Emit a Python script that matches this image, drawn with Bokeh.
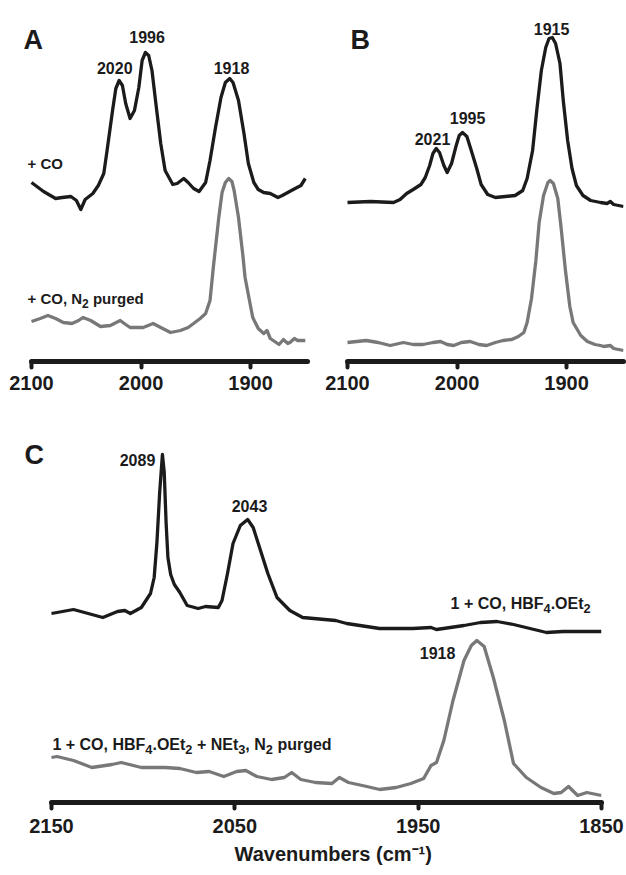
from bokeh.plotting import figure
from bokeh.models import Range1d, Label, FixedTicker, Title
from bokeh.layouts import column, row
from bokeh.embed import file_html
from bokeh.resources import INLINE

# ---------------- data ----------------
# Panel A: + CO (black) and + CO, N2 purged (gray)
A_black_wn = [2100, 2089, 2078, 2072, 2064, 2059, 2055, 2051, 2044, 2039,
              2034, 2031, 2026, 2023, 2020, 2017, 2014, 2010, 2006, 2002,
              1999, 1996, 1993, 1990, 1986, 1982, 1978, 1971, 1967, 1961,
              1957, 1952, 1947, 1941, 1937, 1932, 1927, 1923, 1919, 1916,
              1911, 1906, 1902, 1897, 1893, 1888, 1882, 1875, 1871, 1866,
              1861, 1854, 1850]
A_black_abs = [1.79, 1.70, 1.63, 1.64, 1.65, 1.61, 1.52, 1.62, 1.68, 1.76,
               1.88, 2.11, 2.51, 2.73, 2.81, 2.76, 2.58, 2.43, 2.51, 2.74,
               3.01, 3.09, 3.06, 2.91, 2.54, 2.18, 1.91, 1.77, 1.78, 1.83,
               1.79, 1.73, 1.70, 1.79, 2.01, 2.34, 2.64, 2.79, 2.83, 2.79,
               2.61, 2.28, 1.98, 1.79, 1.72, 1.69, 1.68, 1.64, 1.66, 1.69,
               1.72, 1.76, 1.83]
A_gray_wn = [2100, 2092, 2085, 2078, 2071, 2063, 2057, 2053, 2046, 2037,
             2028, 2019, 2014, 2010, 1998, 1989, 1982, 1973, 1964, 1957,
             1952, 1946, 1941, 1937, 1934, 1929, 1926, 1923, 1920, 1917,
             1915, 1911, 1907, 1905, 1901, 1898, 1893, 1888, 1885, 1882,
             1874, 1870, 1866, 1864, 1860, 1857, 1850]
A_gray_abs = [0.40, 0.43, 0.46, 0.43, 0.39, 0.38, 0.41, 0.44, 0.41, 0.35,
              0.36, 0.41, 0.37, 0.34, 0.34, 0.38, 0.34, 0.29, 0.31, 0.34,
              0.38, 0.43, 0.48, 0.61, 0.94, 1.44, 1.69, 1.79, 1.83, 1.80,
              1.71, 1.44, 1.06, 0.84, 0.61, 0.44, 0.33, 0.28, 0.31, 0.23,
              0.17, 0.22, 0.18, 0.19, 0.23, 0.21, 0.21]
A_peaks = [2020, 1996, 1918]

# Panel B
B_black_wn = [2100, 2079, 2058, 2052, 2046, 2040, 2033, 2029, 2025, 2022,
              2019, 2016, 2012, 2009, 2005, 2001, 1998, 1995, 1991, 1987,
              1982, 1978, 1972, 1965, 1956, 1947, 1940, 1936, 1931, 1927,
              1923, 1919, 1916, 1913, 1910, 1906, 1903, 1899, 1895, 1891,
              1885, 1878, 1869, 1863, 1860, 1857, 1848]
B_black_abs = [1.59, 1.60, 1.59, 1.62, 1.68, 1.72, 1.77, 1.84, 1.96, 2.08,
               2.13, 2.09, 1.96, 1.89, 1.98, 2.15, 2.26, 2.29, 2.25, 2.11,
               1.93, 1.77, 1.67, 1.64, 1.65, 1.66, 1.71, 1.83, 2.11, 2.53,
               2.91, 3.14, 3.23, 3.24, 3.18, 2.98, 2.61, 2.21, 1.93, 1.76,
               1.66, 1.61, 1.59, 1.58, 1.60, 1.57, 1.55]
B_gray_wn = [2100, 2083, 2072, 2061, 2049, 2040, 2031, 2022, 2015, 2009,
             2003, 1996, 1988, 1980, 1973, 1965, 1958, 1950, 1944, 1939,
             1936, 1932, 1928, 1925, 1921, 1917, 1915, 1912, 1908, 1905,
             1901, 1897, 1894, 1887, 1881, 1874, 1869, 1866, 1860, 1857,
             1848]
B_gray_abs = [0.19, 0.21, 0.19, 0.16, 0.19, 0.17, 0.17, 0.19, 0.20, 0.17,
              0.16, 0.19, 0.20, 0.17, 0.16, 0.19, 0.21, 0.22, 0.25, 0.29,
              0.39, 0.63, 1.01, 1.39, 1.66, 1.79, 1.81, 1.78, 1.63, 1.34,
              0.91, 0.55, 0.39, 0.26, 0.20, 0.17, 0.16, 0.15, 0.16, 0.13,
              0.11]
B_peaks = [2021, 1995, 1915]

# Panel C
C_black_wn = [2150, 2138, 2130, 2122, 2114, 2110, 2107, 2101, 2096, 2094,
              2092.5, 2091, 2089.5, 2088.5, 2087.5, 2086.5, 2085, 2083, 2080, 2076,
              2070, 2066, 2059, 2057, 2054, 2051, 2047, 2043, 2040, 2036,
              2032, 2027, 2020, 2013, 2007, 1995, 1989, 1971, 1953, 1943,
              1940, 1925, 1916, 1907, 1898, 1889, 1880, 1871, 1861, 1850]
C_black_abs = [1.89, 1.93, 1.89, 1.85, 1.91, 1.92, 1.89, 1.95, 2.09, 2.25,
               2.60, 3.10, 3.48, 3.30, 2.80, 2.45, 2.28, 2.18, 2.10, 1.97,
               1.94, 1.96, 1.95, 2.02, 2.29, 2.59, 2.77, 2.83, 2.75, 2.52,
               2.29, 2.05, 1.92, 1.85, 1.84, 1.82, 1.79, 1.74, 1.74, 1.75,
               1.73, 1.77, 1.80, 1.81, 1.78, 1.74, 1.70, 1.71, 1.71, 1.71]
C_gray_wn = [2150, 2147, 2138, 2128, 2117, 2112, 2101, 2088, 2080, 2071,
             2064, 2056, 2049, 2044, 2038, 2030, 2023, 2019, 2014, 2006,
             1997, 1993, 1988, 1978, 1971, 1962, 1954, 1947, 1943, 1940,
             1936, 1931, 1925, 1921, 1918, 1914, 1909, 1903, 1898, 1891,
             1883, 1876, 1872, 1868, 1863, 1858, 1850]
C_gray_abs = [0.45, 0.46, 0.42, 0.35, 0.38, 0.40, 0.35, 0.35, 0.34, 0.30,
              0.31, 0.26, 0.31, 0.32, 0.26, 0.23, 0.25, 0.30, 0.23, 0.20,
              0.19, 0.25, 0.20, 0.16, 0.13, 0.15, 0.19, 0.24, 0.37, 0.40,
              0.62, 1.02, 1.42, 1.57, 1.62, 1.56, 1.25, 0.82, 0.39, 0.25,
              0.15, 0.09, 0.10, 0.16, 0.07, 0.10, 0.07]
C_peaks_black = [2089, 2043]
C_peaks_gray = [1918]

AB_ticks = [2100, 2000, 1900]
C_ticks = [2150, 2050, 1950, 1850]

# ---------------- styling ----------------
FONT = "Liberation Sans"
BLACK = "#1b1b1b"
GRAY = "#787878"
LW = 3.3

# Liberation Sans Bold (Arial Bold metrics) advance widths, per 1000 em
ADV = {' ': 278, '+': 584, '1': 556, '2': 556, '3': 556, '4': 556, 'C': 722,
       'O': 778, ',': 278, '.': 278, 'H': 722, 'B': 722, 'F': 611, 'E': 667,
       't': 333, 'N': 722, 'p': 611, 'u': 611, 'r': 389, 'g': 611, 'e': 556,
       'd': 611}


def text_width(s, size):
    return sum(ADV.get(c, 556) for c in s) * size / 1000.0


def make_panel(width, height, xr, bounds, yr, ticks, br, bb, standoff):
    p = figure(width=width, height=height, x_range=Range1d(*xr), y_range=Range1d(*yr),
               output_backend="svg", toolbar_location=None, y_axis_location=None,
               min_border_left=0, min_border_right=br, min_border_top=0,
               min_border_bottom=bb)
    p.grid.visible = False
    p.outline_line_color = None
    p.background_fill_color = "white"
    p.border_fill_color = "white"
    ax = p.xaxis[0]
    ax.bounds = bounds
    ax.ticker = FixedTicker(ticks=ticks)
    ax.axis_line_width = 5
    ax.axis_line_color = BLACK
    ax.axis_line_cap = "round"
    ax.major_tick_line_width = 4
    ax.major_tick_line_color = BLACK
    ax.major_tick_line_cap = "round"
    ax.major_tick_out = 6
    ax.major_tick_in = 0
    ax.minor_tick_out = 0
    ax.minor_tick_in = 0
    ax.major_label_text_font = FONT
    ax.major_label_text_font_style = "bold"
    ax.major_label_text_font_size = "20px"
    ax.major_label_text_color = BLACK
    ax.major_label_standoff = standoff
    return p


def add_label(p, x, y, text, size, align="center", baseline="middle"):
    p.add_layout(Label(x=x, y=y, text=text, text_font=FONT, text_font_style="bold",
                       text_font_size=f"{size}px", text_color=BLACK, text_align=align,
                       text_baseline=baseline))


def add_rich(p, x, y, segments, size, sub_scale=0.8, drop=0.33):
    """Left-aligned text on baseline y, with subscript segments (flag True)."""
    off = 0.0
    for txt, sub in segments:
        fs = size * sub_scale if sub else size
        stripped = txt.lstrip(" ")
        off += text_width(txt[:len(txt) - len(stripped)], fs)
        p.add_layout(Label(x=x, y=y, x_offset=off, y_offset=(-drop * size if sub else 0),
                           text=stripped, text_font=FONT, text_font_style="bold",
                           text_font_size=f"{fs:.1f}px", text_color=BLACK,
                           text_align="left", text_baseline="alphabetic"))
        off += text_width(stripped, fs)


# Panel A
pA = make_panel(313, 400, (2128.31, 1848), (1848, 2100), (0, 3.61), AB_ticks, 6, 39, 8)
pA.line(A_black_wn, A_black_abs, line_color=BLACK, line_width=LW, line_join="round")
pA.line(A_gray_wn, A_gray_abs, line_color=GRAY, line_width=LW, line_join="round")
for pk, dx, y in zip(A_peaks, [4.0, -1.5, -0.6], [2.94, 3.25, 2.94]):
    add_label(pA, pk + dx, y, str(pk), 16)
add_label(pA, 2107.3, 3.22, "A", 27, align="left", baseline="alphabetic")
add_label(pA, 2103.7, 1.98, "+ CO", 15, align="left")
add_rich(pA, 2103.7, 0.63, [("+ CO, N", False), ("2", True), (" purged", False)], 15)

# Panel B
pB = make_panel(313, 400, (2131.05, 1848), (1848, 2100), (0, 3.61), AB_ticks, 3, 39, 8)
pB.line(B_black_wn, B_black_abs, line_color=BLACK, line_width=LW, line_join="round")
pB.line(B_gray_wn, B_gray_abs, line_color=GRAY, line_width=LW, line_join="round")
for pk, dx, y in zip(B_peaks, [1.4, -4.6, -1.3], [2.23, 2.44, 3.33]):
    add_label(pB, pk + dx, y, str(pk), 16)
add_label(pB, 2097.3, 3.22, "B", 27, align="left", baseline="alphabetic")

# Panel C
pC = make_panel(626, 475, (2177.82, 1850), (1850, 2150), (0, 4.02), C_ticks, 25, 73, 10)
pC.line(C_black_wn, C_black_abs, line_color=BLACK, line_width=LW, line_join="round")
pC.line(C_gray_wn, C_gray_abs, line_color=GRAY, line_width=LW, line_join="round")
pC.add_layout(Title(text="Wavenumbers (cm\u207b\u00b9)", align="left", offset=234,
                    text_font=FONT, text_font_style="bold", text_font_size="20px",
                    text_color=BLACK, standoff=10, text_line_height=0.8), "below")
for pk, dx, y in zip(C_peaks_black, [14.1, -1.0], [3.43, 2.97]):
    add_label(pC, pk + dx, y, str(pk), 16)
for pk, dx, y in zip(C_peaks_gray, [21.4], [1.50]):
    add_label(pC, pk + dx, y, str(pk), 16)
add_label(pC, 2164.7, 3.48, "C", 27, align="left", baseline="alphabetic")
add_rich(pC, 1932.3, 1.99, [("1 + CO, HBF", False), ("4", True), (".OEt", False),
                            ("2", True)], 16)
add_rich(pC, 2149.5, 0.585, [("1 + CO, HBF", False), ("4", True), (".OEt", False),
                             ("2", True), (" + NEt", False), ("3", True), (", N", False),
                             ("2", True), (" purged", False)], 16)

layout = column(row(pA, pB, spacing=0), pC, spacing=0)
open("out.html", "w").write(file_html(layout, INLINE))
